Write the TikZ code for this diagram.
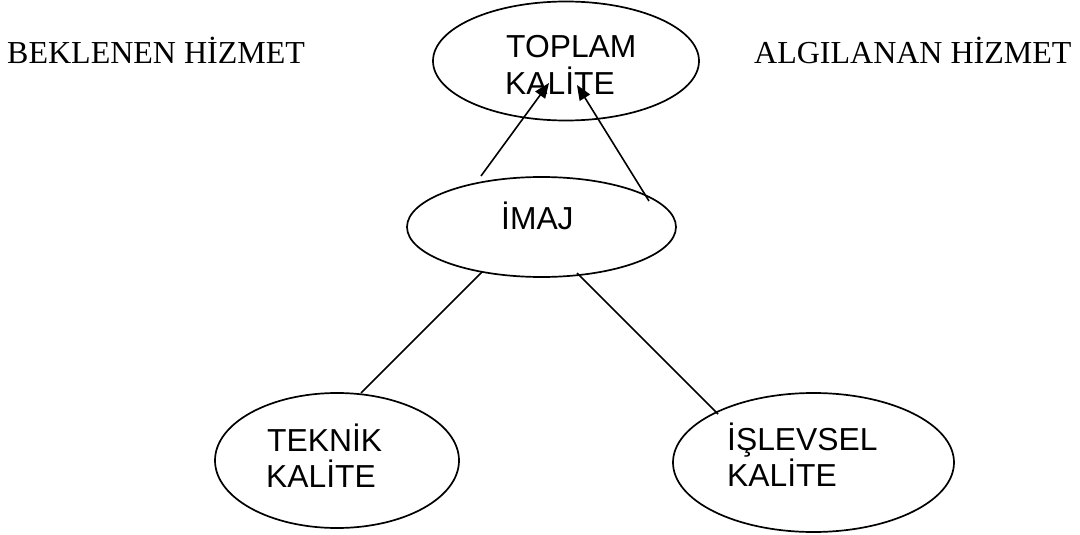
\documentclass[tikz,border=0pt]{standalone}
\usepackage{fontspec}
\setmainfont{Liberation Serif}
\newfontfamily\arialfont{Liberation Sans}
\usetikzlibrary{shapes.geometric,arrows.meta}
\tikzset{
  oval/.style={draw, ellipse, line width=1.7pt, inner sep=0pt},
  ovaltext/.style={anchor=base west, inner sep=0pt, font=\arialfont\fontsize{31.8}{36}\selectfont},
  sidelabel/.style={anchor=base west, inner sep=0pt, font=\fontsize{32}{38}\selectfont},
  link/.style={line width=1.6pt},
  arr/.style={line width=1.6pt, -{Triangle[length=15pt,width=12pt]}}
}
\begin{document}
\begin{tikzpicture}[x=1pt,y=-1pt]
\useasboundingbox (0,0) rectangle (1080,535);
% ellipses
\node[oval, minimum width=266pt, minimum height=119pt] (toplam) at (566,61) {};
\node[oval, minimum width=269pt, minimum height=100pt] (imaj) at (541.5,227) {};
\node[oval, minimum width=244pt, minimum height=135pt] (teknik) at (337,460.5) {};
\node[oval, minimum width=281pt, minimum height=139pt] (islevsel) at (813.5,462.5) {};
% texts
\node[ovaltext] (t1) at (506,58) {TOPLAM};
\node[ovaltext] (t2) at (505,95) {KAL\.ITE};
\node[ovaltext] (i1) at (501,229) {\.IMAJ};
\node[ovaltext] (k1) at (267,451) {TEKN\.IK};
\node[ovaltext] (k2) at (266,487) {KAL\.ITE};
\node[ovaltext] (s1) at (727,450) {\.I\c{S}LEVSEL};
\node[ovaltext] (s2) at (727,486) {KAL\.ITE};
\node[sidelabel] (bek) at (7,64) {BEKLENEN H\.IZMET};
\node[sidelabel] (alg) at (754,64) {ALGILANAN H\.IZMET};
% connector end points
\coordinate (a1s) at (481,176);
\coordinate (a1t) at (549,83);
\coordinate (a2s) at (649,201);
\coordinate (a2t) at (577,85);
\coordinate (l1s) at (482,272);
\coordinate (l1t) at (361,393);
\coordinate (l2s) at (577,273);
\coordinate (l2t) at (718,414);
% connectors
\draw[arr] (a1s) -- (a1t);
\draw[arr] (a2s) -- (a2t);
\draw[link] (l1s) -- (l1t);
\draw[link] (l2s) -- (l2t);
\end{tikzpicture}
\end{document}
